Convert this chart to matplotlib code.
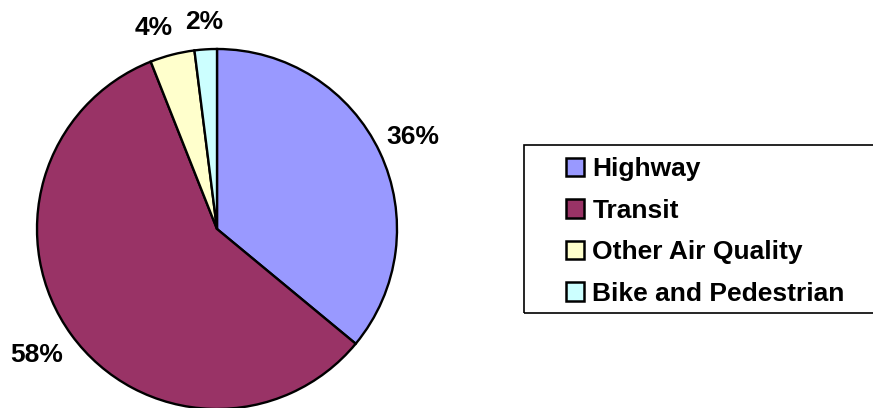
import matplotlib
matplotlib.use("Agg")
import matplotlib.pyplot as plt
import numpy as np
from matplotlib.patches import Rectangle

categories = ["Highway", "Transit", "Other Air Quality", "Bike and Pedestrian"]
shares = [36, 58, 4, 2]
colors = ["#9999FF", "#993366", "#FFFFCC", "#CCFFFF"]

W, H = 873, 408
fig = plt.figure(figsize=(W / 100, H / 100), dpi=100)
plt.rcParams['font.family'] = ['Liberation Sans', 'DejaVu Sans']
ax = fig.add_axes([0, 0, 1, 1])

cx, cy, r = 217, H - 229, 180
wedges, texts, autotexts = ax.pie(
    shares, colors=colors, startangle=90, counterclock=False,
    center=(cx, cy), radius=r, autopct='%1.0f%%', pctdistance=1.19,
    wedgeprops=dict(edgecolor='black', linewidth=1.7),
    textprops=dict(fontsize=19, fontweight='bold', color='black'),
)
# fine placement of percentage labels (distance factor, angle nudge in degrees)
label_dist = [1.20, 1.22, 1.17, 1.155]
label_nudge = [0, -1, 3, 0]
for w, t, d, n in zip(wedges, autotexts, label_dist, label_nudge):
    ang = np.deg2rad((w.theta1 + w.theta2) / 2 + n)
    t.set_position((cx + d * r * np.cos(ang), cy + d * r * np.sin(ang)))

ax.set_xlim(0, W)
ax.set_ylim(0, H)
ax.set_aspect('auto')
ax.axis('off')

# legend frame
ax.add_patch(Rectangle((524, H - 313), 400, 168, facecolor='none',
                       edgecolor='black', linewidth=1.2, clip_on=True))

leg = fig.legend(wedges, categories, loc='upper left',
                 bbox_to_anchor=(566 / W, 1 - 157 / H),
                 frameon=False, borderpad=0, borderaxespad=0,
                 handlelength=0.7, handleheight=0.7, handletextpad=0.3,
                 labelspacing=0.665,
                 prop=dict(size=19, weight='bold'))
for h in leg.legend_handles:
    h.set_edgecolor('black')
    h.set_linewidth(1.8)

fig.savefig("out.png", dpi=100)
